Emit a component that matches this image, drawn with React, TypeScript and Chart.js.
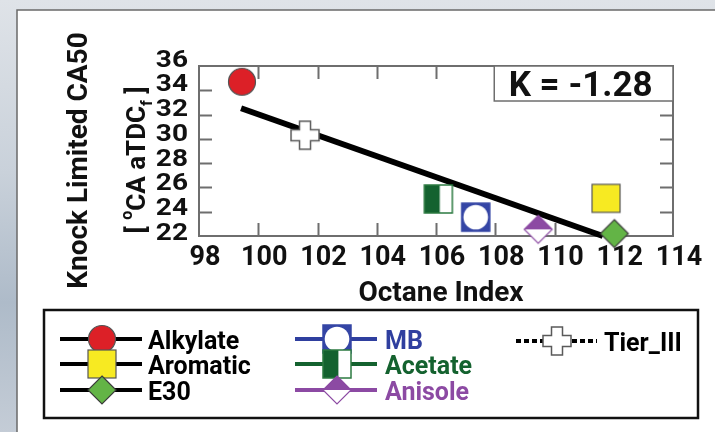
import React, { useEffect, useRef } from "react";
import { Chart, registerables } from "chart.js";

Chart.register(...registerables);

// ---- data ----
const seriesNames = ["Alkylate", "Aromatic", "E30", "MB", "Acetate", "Anisole", "Tier_III"];
const octaneIndex = [99.45, 111.74, 112.02, 107.34, 106.08, 109.45, 101.58];
const knockCA50 = [34.7, 25.1, 22.2, 23.55, 25.05, 22.55, 30.3];
const fitX = [99.42, 111.63];
const fitY = [32.52, 22.0];
const xTicks = [98, 100, 102, 104, 106, 108, 110, 112, 114];
const yTicks = [22, 24, 26, 28, 30, 32, 34, 36];
const kLabel = "K = -1.28";

// ---- styles ----
const FONT = "Roboto, 'Liberation Sans', sans-serif";
const markerKind: Record<string, string> = {
  Alkylate: "circle",
  Aromatic: "square",
  E30: "diamond",
  MB: "mb",
  Acetate: "acetate",
  Anisole: "anisole",
  Tier_III: "cross",
};
const legendColor: Record<string, string> = {
  Alkylate: "#000000",
  Aromatic: "#000000",
  E30: "#000000",
  MB: "#2f3f9f",
  Acetate: "#14622f",
  Anisole: "#8c4aa3",
  Tier_III: "#000000",
};

function makeMarker(kind: string): HTMLCanvasElement {
  const S = 28;
  const pad = 3;
  const size = S + pad * 2;
  const c = document.createElement("canvas");
  c.width = size;
  c.height = size;
  const g = c.getContext("2d")!;
  const m = size / 2;
  const h = S / 2;
  g.lineJoin = "miter";
  const diamond = () => {
    g.beginPath();
    g.moveTo(m, m - h);
    g.lineTo(m + h, m);
    g.lineTo(m, m + h);
    g.lineTo(m - h, m);
    g.closePath();
  };
  switch (kind) {
    case "circle":
      g.beginPath();
      g.arc(m, m, 13.5, 0, Math.PI * 2);
      g.fillStyle = "#dc2027";
      g.fill();
      g.lineWidth = 1.2;
      g.strokeStyle = "#555";
      g.stroke();
      break;
    case "square":
      g.fillStyle = "#f7ea22";
      g.fillRect(m - h, m - h, S, S);
      g.lineWidth = 1.2;
      g.strokeStyle = "#555";
      g.strokeRect(m - h, m - h, S, S);
      break;
    case "diamond":
      diamond();
      g.fillStyle = "#63b446";
      g.fill();
      g.lineWidth = 1.2;
      g.strokeStyle = "#3c3c3c";
      g.stroke();
      break;
    case "mb":
      g.fillStyle = "#3445a5";
      g.fillRect(m - h, m - h, S, S);
      g.beginPath();
      g.arc(m, m, 12.3, 0, Math.PI * 2);
      g.fillStyle = "#ffffff";
      g.fill();
      g.lineWidth = 1.5;
      g.strokeStyle = "#3445a5";
      g.strokeRect(m - h, m - h, S, S);
      break;
    case "acetate":
      g.fillStyle = "#ffffff";
      g.fillRect(m - h, m - h, S, S);
      g.fillStyle = "#14622f";
      g.fillRect(m - h, m - h, S * 0.55, S);
      g.lineWidth = 1.5;
      g.strokeStyle = "#2b7a40";
      g.strokeRect(m - h, m - h, S, S);
      break;
    case "anisole":
      diamond();
      g.fillStyle = "#ffffff";
      g.fill();
      g.beginPath();
      g.moveTo(m, m - h);
      g.lineTo(m + h, m);
      g.lineTo(m - h, m);
      g.closePath();
      g.fillStyle = "#8c4aa3";
      g.fill();
      diamond();
      g.lineWidth = 1.2;
      g.strokeStyle = "#8c4aa3";
      g.stroke();
      break;
    case "cross": {
      const a = 5.5;
      g.beginPath();
      g.moveTo(m - a, m - h);
      g.lineTo(m + a, m - h);
      g.lineTo(m + a, m - a);
      g.lineTo(m + h, m - a);
      g.lineTo(m + h, m + a);
      g.lineTo(m + a, m + a);
      g.lineTo(m + a, m + h);
      g.lineTo(m - a, m + h);
      g.lineTo(m - a, m + a);
      g.lineTo(m - h, m + a);
      g.lineTo(m - h, m - a);
      g.lineTo(m - a, m - a);
      g.closePath();
      g.fillStyle = "#ffffff";
      g.fill();
      g.lineWidth = 1.5;
      g.strokeStyle = "#5a5a5a";
      g.stroke();
      break;
    }
  }
  return c;
}

export default function App() {
  const ref = useRef<HTMLCanvasElement | null>(null);

  useEffect(() => {
    document.body.style.margin = "0";
    const canvas = ref.current!;
    const markers: Record<string, HTMLCanvasElement> = {};
    seriesNames.forEach((n) => (markers[n] = makeMarker(markerKind[n])));

    const decor = {
      id: "decor",
      beforeDraw(chart: any) {
        const ctx = chart.ctx as CanvasRenderingContext2D;
        const W = chart.width;
        const H = chart.height;
        ctx.save();
        const grd = ctx.createLinearGradient(0, 0, 0, H);
        grd.addColorStop(0, "#dfe3e8");
        grd.addColorStop(0.4, "#c9d1da");
        grd.addColorStop(0.7, "#aebbc9");
        grd.addColorStop(1, "#c4ccd6");
        ctx.fillStyle = grd;
        ctx.fillRect(0, 0, W, H);
        ctx.fillStyle = "#ffffff";
        ctx.fillRect(17, 10, W - 17, H - 10);
        ctx.strokeStyle = "#6a6a6a";
        ctx.lineWidth = 1.5;
        ctx.beginPath();
        ctx.moveTo(17, H);
        ctx.lineTo(17, 10);
        ctx.lineTo(W, 10);
        ctx.stroke();
        ctx.restore();
      },
      beforeDatasetsDraw(chart: any) {
        const ctx = chart.ctx as CanvasRenderingContext2D;
        const { left, right, top, bottom } = chart.chartArea;
        const xs = chart.scales.x;
        const ys = chart.scales.y;
        ctx.save();
        // frame
        ctx.strokeStyle = "#6e6e6e";
        ctx.lineWidth = 2;
        ctx.strokeRect(left, top, right - left, bottom - top);
        // inward ticks on all sides
        const TL = 13;
        ctx.beginPath();
        xTicks.slice(1, -1).forEach((v) => {
          const px = Math.round(xs.getPixelForValue(v)) + 0.5;
          ctx.moveTo(px, bottom);
          ctx.lineTo(px, bottom - TL);
          ctx.moveTo(px, top);
          ctx.lineTo(px, top + TL);
        });
        yTicks.slice(1, -1).forEach((v) => {
          const py = Math.round(ys.getPixelForValue(v)) + 0.5;
          ctx.moveTo(left, py);
          ctx.lineTo(left + TL, py);
          ctx.moveTo(right, py);
          ctx.lineTo(right - TL, py);
        });
        ctx.stroke();

        // K box
        const bx = xs.getPixelForValue(108) - 1;
        ctx.fillStyle = "#ffffff";
        ctx.fillRect(bx, top, right - bx, 35);
        ctx.strokeStyle = "#6e6e6e";
        ctx.lineWidth = 1.5;
        ctx.strokeRect(bx, top, right - bx, 35);
        ctx.fillStyle = "#111";
        ctx.font = `bold 35px ${FONT}`;
        ctx.textAlign = "center";
        ctx.textBaseline = "alphabetic";
        ctx.fillText(kLabel, (bx + right) / 2 - 3, top + 30);

        // x tick labels
        ctx.font = `bold 27px ${FONT}`;
        ctx.fillStyle = "#111";
        ctx.textAlign = "center";
        xTicks.forEach((v) => {
          ctx.fillText(String(v), xs.getPixelForValue(v) + 6, bottom + 29);
        });
        // y tick labels (vertically compressed like the reference)
        ctx.font = `bold 28px ${FONT}`;
        ctx.textAlign = "right";
        yTicks.forEach((v) => {
          const py = ys.getPixelForValue(v) - 5 - (v - 22) * 0.2;
          ctx.save();
          ctx.translate(188, py);
          ctx.scale(1, 0.86);
          ctx.fillText(String(v), 0, 10);
          ctx.restore();
        });

        // x title
        ctx.textAlign = "center";
        ctx.font = `bold 28px ${FONT}`;
        ctx.fillText("Octane Index", 441, 301);

        // y title line 1
        ctx.save();
        ctx.translate(77, 160.5);
        ctx.rotate(-Math.PI / 2);
        ctx.textAlign = "center";
        ctx.font = `bold 28px ${FONT}`;
        ctx.fillText("Knock Limited CA50", 0, 10);
        ctx.restore();

        // y title line 2 with super/subscript
        ctx.save();
        ctx.translate(145, 160);
        ctx.rotate(-Math.PI / 2);
        ctx.textAlign = "left";
        const big = `bold 26px ${FONT}`;
        const small = `bold 16px ${FONT}`;
        const parts: [string, string, number][] = [
          ["[ ", big, 0],
          ["o", small, -13],
          ["CA aTDC", big, 0],
          ["f", small, 7],
          [" ]", big, 0],
        ];
        let total = 0;
        parts.forEach(([t, f]) => {
          ctx.font = f;
          total += ctx.measureText(t).width;
        });
        let cx = -total / 2;
        parts.forEach(([t, f, dy]) => {
          ctx.font = f;
          ctx.fillText(t, cx, dy);
          cx += ctx.measureText(t).width;
        });
        ctx.restore();
        ctx.restore();
      },
      afterDraw(chart: any) {
        const ctx = chart.ctx as CanvasRenderingContext2D;
        ctx.save();
        // legend box
        ctx.strokeStyle = "#111";
        ctx.lineWidth = 2.5;
        ctx.strokeRect(44, 310, 654, 108);
        const rows = [339, 364, 390];
        const cols = [
          { names: ["Alkylate", "Aromatic", "E30"], x0: 60, x1: 142, mx: 102, tx: 148 },
          { names: ["MB", "Acetate", "Anisole"], x0: 295, x1: 377, mx: 337, tx: 385 },
          { names: ["Tier_III"], x0: 516, x1: 597, mx: 557, tx: 604 },
        ];
        ctx.font = `bold 25px ${FONT}`;
        ctx.textAlign = "left";
        ctx.textBaseline = "alphabetic";
        cols.forEach((col, ci) => {
          col.names.forEach((n, ri) => {
            const y = ci === 2 ? 341 : rows[ri];
            ctx.beginPath();
            ctx.lineWidth = 4;
            ctx.strokeStyle = n === "Tier_III" ? "#000" : legendColor[n];
            if (n === "Tier_III") ctx.setLineDash([5, 3]);
            else ctx.setLineDash([]);
            ctx.moveTo(col.x0, y);
            ctx.lineTo(col.x1, y);
            ctx.stroke();
            ctx.setLineDash([]);
            const mk = markers[n];
            ctx.drawImage(mk, col.mx - mk.width / 2, y - mk.height / 2);
            ctx.fillStyle = legendColor[n];
            ctx.fillText(n, col.tx, y + 10);
          });
        });
        ctx.restore();
      },
    };

    const datasets: any[] = seriesNames.map((n, i) => ({
      label: n,
      data: [{ x: octaneIndex[i], y: knockCA50[i] }],
      pointStyle: markers[n],
      pointRadius: 14,
      showLine: false,
      clip: false,
    }));
    datasets.push({
      label: "fit",
      data: fitX.map((x, i) => ({ x, y: fitY[i] })),
      showLine: true,
      borderColor: "#000000",
      borderWidth: 6,
      pointRadius: 0,
      clip: false,
    });

    const chart = new Chart(canvas, {
      type: "scatter",
      data: { datasets },
      options: {
        responsive: false,
        animation: false,
        devicePixelRatio: 1,
        layout: { padding: { left: 199, top: 66, right: 42, bottom: 196 } },
        plugins: { legend: { display: false }, tooltip: { enabled: false } },
        events: [],
        scales: {
          x: { type: "linear", min: 98, max: 114, display: false },
          y: { type: "linear", min: 22, max: 36, display: false },
        },
      },
      plugins: [decor],
    });
    return () => chart.destroy();
  }, []);

  return (
    <div style={{ width: 715, height: 432 }}>
      <canvas ref={ref} width={715} height={432} style={{ display: "block" }} />
    </div>
  );
}
